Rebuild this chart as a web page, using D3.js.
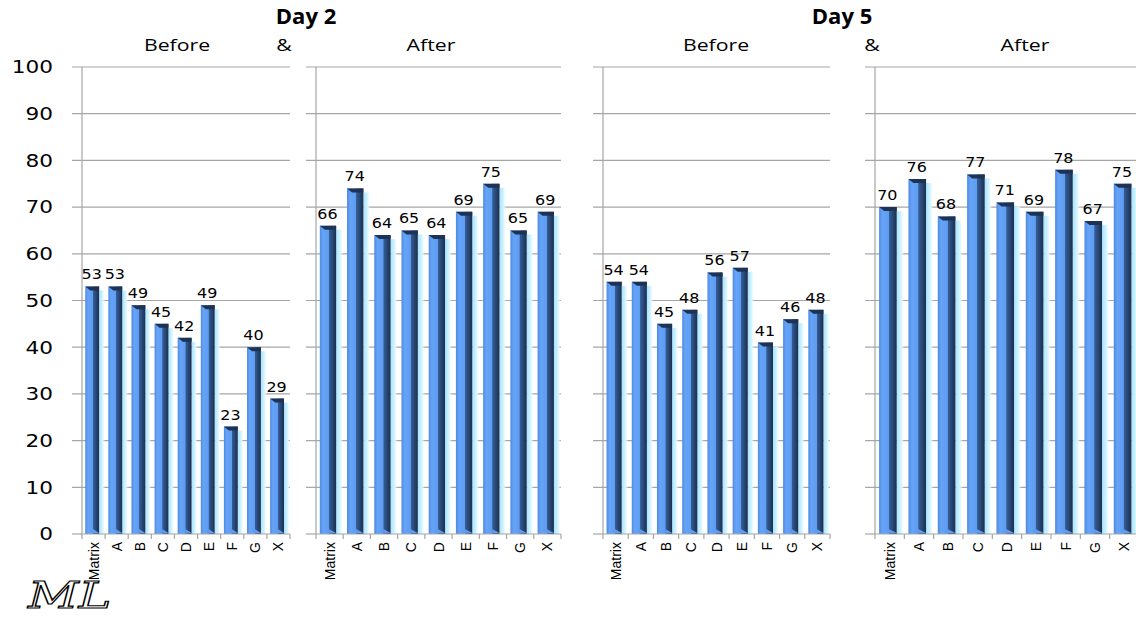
<!DOCTYPE html>
<html>
<head>
<meta charset="utf-8">
<script src="https://cdn.jsdelivr.net/npm/d3@7"></script>
<style>
  body { margin: 0; background: #fff; }
  svg { display: block; }
</style>
</head>
<body>
<div class="chart"></div>
<script>
var WIDTH = 1136, HEIGHT = 621;

// data
var categories = ["Matrix", "A", "B", "C", "D", "E", "F", "G", "X"];
var day2Before = [53, 53, 49, 45, 42, 49, 23, 40, 29];
var day2After = [66, 74, 64, 65, 64, 69, 75, 65, 69];
var day5Before = [54, 54, 45, 48, 56, 57, 41, 46, 48];
var day5After = [70, 76, 68, 77, 71, 69, 78, 67, 75];
var yTicks = [0, 10, 20, 30, 40, 50, 60, 70, 80, 90, 100];

// panel layout (left axis, right end of band range, right end of gridlines)
var panels = [
    { values: day2Before, x0: 82, x1: 290, g1: 290, labels: true },
    { values: day2After, x0: 316, x1: 561, g1: 561, labels: false },
    { values: day5Before, x0: 603, x1: 830, g1: 830, labels: false },
    { values: day5After, x0: 875, x1: 1139, g1: 1136, labels: false }
];

var yScale = d3.scaleLinear().domain([0, 100]).range([534, 67]);

var svg = d3.select(".chart").append("svg")
    .attr("width", WIDTH)
    .attr("height", HEIGHT);

var defs = svg.append("defs");
var barGrad = defs.append("linearGradient").attr("id", "barGrad")
    .attr("x1", "0").attr("x2", "1").attr("y1", "0").attr("y2", "0");
barGrad.append("stop").attr("offset", "0%").attr("stop-color", "#4f8ae0");
barGrad.append("stop").attr("offset", "20%").attr("stop-color", "#66a4f8");
barGrad.append("stop").attr("offset", "55%").attr("stop-color", "#5e9cf2");
barGrad.append("stop").attr("offset", "58%").attr("stop-color", "#345d96");
barGrad.append("stop").attr("offset", "100%").attr("stop-color", "#1b2f50");

var glowGrad = defs.append("linearGradient").attr("id", "glowGrad")
    .attr("x1", "0").attr("x2", "1").attr("y1", "0").attr("y2", "0");
glowGrad.append("stop").attr("offset", "0%").attr("stop-color", "#a3e4ff");
glowGrad.append("stop").attr("offset", "60%").attr("stop-color", "#d8f5ff");
glowGrad.append("stop").attr("offset", "100%").attr("stop-color", "#ffffff").attr("stop-opacity", 0);

// the picture is stretched sideways, so texts are too
function stretched(x, y, sx) {
    return "translate(" + x + "," + y + ") scale(" + sx + ",1)";
}

// titles
var titles = [
    { text: "Day 2", x: 306, y: 24, bold: true },
    { text: "Day 5", x: 842, y: 24, bold: true },
    { text: "Before", x: 177, y: 51 },
    { text: "&", x: 284, y: 51 },
    { text: "After", x: 431, y: 51 },
    { text: "Before", x: 716, y: 51 },
    { text: "&", x: 872, y: 51 },
    { text: "After", x: 1025, y: 51 }
];
svg.selectAll("text.title")
    .data(titles)
    .enter()
    .append("text")
    .attr("class", "title")
    .attr("transform", d => stretched(d.x, d.y, d.bold ? 1.05 : 1.25))
    .attr("text-anchor", "middle")
    .style("font-family", "'Open Sans', sans-serif")
    .style("font-size", d => d.bold ? "21px" : "17px")
    .style("font-weight", d => d.bold ? "bold" : "normal")
    .text(d => d.text);

panels.forEach(function (p) {
    var xScale = d3.scaleBand()
        .domain(categories)
        .range([p.x0, p.x1])
        .padding(0);
    var step = xScale.step();
    var g = svg.append("g");

    // gridlines
    g.selectAll("line.grid")
        .data(yTicks)
        .enter()
        .append("line")
        .attr("x1", p.x0 - 10)
        .attr("x2", d => d == 0 ? p.x0 : p.g1)
        .attr("y1", d => yScale(d))
        .attr("y2", d => yScale(d))
        .attr("stroke", "#a6a6a6")
        .attr("stroke-width", 1.2);

    // y axis line
    g.append("line")
        .attr("x1", p.x0).attr("x2", p.x0)
        .attr("y1", yScale(100)).attr("y2", yScale(0))
        .attr("stroke", "#a6a6a6").attr("stroke-width", 1.2);

    if (p.labels) {
        g.selectAll("text.ytick")
            .data(yTicks)
            .enter()
            .append("text")
            .attr("transform", d => stretched(53, yScale(d), 1.2))
            .attr("dy", "0.35em")
            .attr("text-anchor", "end")
            .style("font-family", "'DejaVu Sans', sans-serif")
            .style("font-size", "18px")
            .text(d => d);
    }

    var bars = g.selectAll("g.bar")
        .data(p.values)
        .enter()
        .append("g");

    var bw = step * 0.6;
    var bx = (d, i) => xScale(categories[i]) + step * 0.14;

    // glow on right side
    bars.append("rect")
        .attr("x", (d, i) => bx(d, i) + bw)
        .attr("y", d => yScale(d) + 4)
        .attr("width", step * 0.26)
        .attr("height", d => yScale(0) - yScale(d) - 4)
        .attr("fill", "url(#glowGrad)");

    bars.append("rect")
        .attr("x", bx)
        .attr("y", d => yScale(d))
        .attr("width", bw)
        .attr("height", d => yScale(0) - yScale(d))
        .attr("fill", "url(#barGrad)");

    // top bevel
    bars.append("polygon")
        .attr("points", function (d, i) {
            var x = bx(d, i), t = yScale(d);
            return [[x, t], [x + bw, t], [x + bw, t + 4], [x + 5, t + 4]].join(" ");
        })
        .attr("fill", "#1d3356");

    // bottom bevel
    bars.append("polygon")
        .attr("points", function (d, i) {
            var x = bx(d, i), b = yScale(0);
            return [[x + bw * 0.55, b - 5], [x + bw, b - 1], [x + bw * 0.55, b - 1]].join(" ");
        })
        .attr("fill", "#5e9cf2");

    // value labels
    g.selectAll("text.val")
        .data(p.values)
        .enter()
        .append("text")
        .attr("transform", (d, i) => stretched(xScale(categories[i]) + step * 0.42, yScale(d) - 7, 1.1))
        .attr("text-anchor", "middle")
        .style("font-family", "'DejaVu Sans', sans-serif")
        .style("font-size", "14.5px")
        .text(d => d);

    // x axis
    g.append("line")
        .attr("x1", p.x0).attr("x2", p.x1)
        .attr("y1", yScale(0)).attr("y2", yScale(0))
        .attr("stroke", "#a6a6a6").attr("stroke-width", 1.2);
    var edges = categories.map(c => xScale(c)).concat([p.x1]);
    g.selectAll("line.xt")
        .data(edges)
        .enter()
        .append("line")
        .attr("x1", d => d).attr("x2", d => d)
        .attr("y1", yScale(0)).attr("y2", yScale(0) + 5)
        .attr("stroke", "#a6a6a6").attr("stroke-width", 1.2);

    g.selectAll("text.cat")
        .data(categories)
        .enter()
        .append("text")
        .attr("transform", d => "translate(" + (xScale(d) + step / 2 + 5) + "," + (yScale(0) + 8) + ") rotate(-90)")
        .attr("text-anchor", "end")
        .style("font-family", "'Liberation Sans', sans-serif")
        .style("font-size", "14px")
        .text(d => d);
});

// signature
svg.append("text")
    .attr("transform", stretched(28, 608, 1.3))
    .style("font-family", "'DejaVu Serif', serif")
    .style("font-style", "italic")
    .style("font-size", "38px")
    .style("fill", "none")
    .style("stroke", "#000")
    .style("stroke-width", 1.2)
    .text("ML");
</script>
</body>
</html>
